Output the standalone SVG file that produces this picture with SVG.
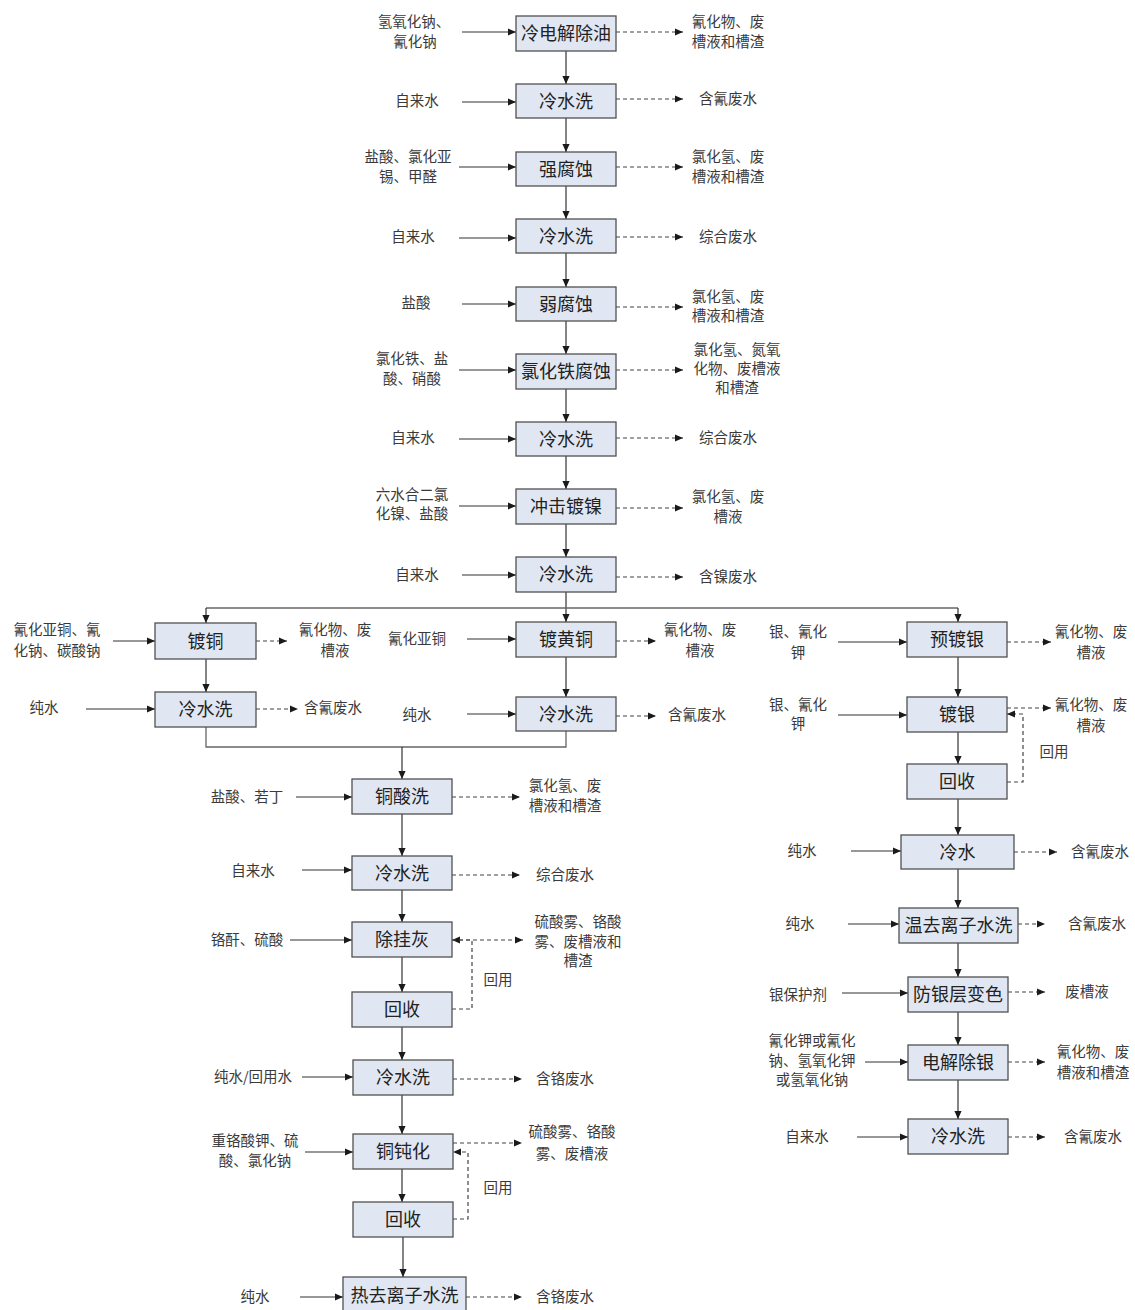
<svg xmlns="http://www.w3.org/2000/svg" width="1135" height="1310" viewBox="0 0 1135 1310">
<style>
.bx rect{fill:#e1e7f2;stroke:#505050;stroke-width:1.3}
.bx text{font-family:"Noto Sans CJK SC","Noto Sans",sans-serif;font-size:18px;fill:#222;text-anchor:middle;dominant-baseline:central;transform:translateY(-1.5px)}
.lb text{font-family:"Noto Sans CJK SC","Noto Sans",sans-serif;font-size:14.5px;fill:#3a3a3a;text-anchor:middle;dominant-baseline:central;transform:translateY(-1.5px)}
.s{fill:none;stroke:#333;stroke-width:1.2}
.g{fill:none;stroke:#666;stroke-width:1.3}
.d{fill:none;stroke:#444;stroke-width:1.2;stroke-dasharray:4 3}
.a{marker-end:url(#ah)}
</style>
<defs>
<marker id="ah" viewBox="0 0 10 10" refX="10" refY="5" markerWidth="9" markerHeight="8" markerUnits="userSpaceOnUse" orient="auto"><path d="M0,0.5 L10,5 L0,9.5 z" fill="#1a1a1a"/></marker>
</defs>
<rect width="1135" height="1310" fill="#fff"/>

<g id="connectors">
<path class="s a" d="M566,51 V84"/>
<path class="s a" d="M566,118 V152"/>
<path class="s a" d="M566,186 V219"/>
<path class="s a" d="M566,253 V287"/>
<path class="s a" d="M566,321 V354"/>
<path class="s a" d="M566,389 V422"/>
<path class="s a" d="M566,456 V489"/>
<path class="s a" d="M566,524 V557"/>
<path class="s a" d="M566,592 V622"/>
<path class="g" d="M206,608 H958"/>
<path class="s a" d="M206,608 V623"/>
<path class="s a" d="M958,608 V622"/>
<path class="s a" d="M206,659 V692"/>
<path class="s a" d="M566,657 V697"/>
<path class="g" d="M206,727 V747 H566 V731"/>
<path class="s a" d="M402,747 V779"/>
<path class="s a" d="M402,814 V856"/>
<path class="s a" d="M402,890 V922"/>
<path class="s a" d="M402,957 V992"/>
<path class="s a" d="M402,1027 V1060"/>
<path class="s a" d="M402,1095 V1134"/>
<path class="s a" d="M402,1169 V1202"/>
<path class="s a" d="M403,1237 V1277"/>
<path class="s a" d="M958,657 V697"/>
<path class="s a" d="M958,732 V764"/>
<path class="s a" d="M958,799 V835"/>
<path class="s a" d="M958,869 V908"/>
<path class="s a" d="M958,943 V977"/>
<path class="s a" d="M958,1012 V1045"/>
<path class="s a" d="M958,1080 V1119"/>
<path class="d a" d="M1007,782 H1023 V714 H1007"/>
<path class="d a" d="M452,1009 H472 V940 H452"/>
<path class="d a" d="M453,1219 H468 V1152 H453"/>
<path class="s a" d="M462,32 H516"/>
<path class="s a" d="M462,102 H516"/>
<path class="s a" d="M459,167 H516"/>
<path class="s a" d="M459,238 H516"/>
<path class="s a" d="M462,304 H516"/>
<path class="s a" d="M459,370 H516"/>
<path class="s a" d="M459,439 H516"/>
<path class="s a" d="M459,506 H516"/>
<path class="s a" d="M462,575 H516"/>
<path class="d a" d="M616,32 H683"/>
<path class="d a" d="M616,99 H683"/>
<path class="d a" d="M616,167 H683"/>
<path class="d a" d="M616,237 H683"/>
<path class="d a" d="M616,307 H683"/>
<path class="d a" d="M616,370 H683"/>
<path class="d a" d="M616,438 H683"/>
<path class="d a" d="M616,508 H683"/>
<path class="d a" d="M616,577 H683"/>
<path class="s a" d="M113,641 H155"/>
<path class="d a" d="M256,641 H287"/>
<path class="s a" d="M86,709 H155"/>
<path class="d a" d="M256,709 H298"/>
<path class="s a" d="M467,639 H516"/>
<path class="d a" d="M616,641 H656"/>
<path class="s a" d="M467,714 H516"/>
<path class="d a" d="M616,716 H656"/>
<path class="s a" d="M296,797 H352"/>
<path class="d a" d="M452,797 H520"/>
<path class="s a" d="M302,870 H352"/>
<path class="d a" d="M452,875 H520"/>
<path class="s a" d="M290,940 H352"/>
<path class="d a" d="M452,940 H523"/>
<path class="s a" d="M302,1077 H353"/>
<path class="d a" d="M453,1079 H522"/>
<path class="s a" d="M305,1152 H353"/>
<path class="d a" d="M453,1143 H522"/>
<path class="s a" d="M300,1297 H343"/>
<path class="d a" d="M466,1297 H522"/>
<path class="s a" d="M838,642 H907"/>
<path class="d a" d="M1007,642 H1051"/>
<path class="s a" d="M838,715 H907"/>
<path class="d a" d="M1007,708 H1051"/>
<path class="s a" d="M851,851 H901"/>
<path class="d a" d="M1014,852 H1057"/>
<path class="s a" d="M848,924 H899"/>
<path class="d a" d="M1018,924 H1045"/>
<path class="s a" d="M842,993 H908"/>
<path class="d a" d="M1008,992 H1045"/>
<path class="s a" d="M865,1062 H908"/>
<path class="d a" d="M1008,1062 H1045"/>
<path class="s a" d="M857,1137 H908"/>
<path class="d a" d="M1008,1137 H1045"/>
</g>

<g id="n1" class="bx"><rect x="516" y="16" width="100" height="35"/><text x="566" y="33.5">冷电解除油</text></g>
<g id="n2" class="bx"><rect x="516" y="84" width="100" height="34"/><text x="566" y="101">冷水洗</text></g>
<g id="n3" class="bx"><rect x="516" y="152" width="100" height="34"/><text x="566" y="169">强腐蚀</text></g>
<g id="n4" class="bx"><rect x="516" y="219" width="100" height="34"/><text x="566" y="236">冷水洗</text></g>
<g id="n5" class="bx"><rect x="516" y="287" width="100" height="34"/><text x="566" y="304">弱腐蚀</text></g>
<g id="n6" class="bx"><rect x="516" y="354" width="100" height="35"/><text x="566" y="371.5">氯化铁腐蚀</text></g>
<g id="n7" class="bx"><rect x="516" y="422" width="100" height="34"/><text x="566" y="439">冷水洗</text></g>
<g id="n8" class="bx"><rect x="516" y="489" width="100" height="35"/><text x="566" y="506.5">冲击镀镍</text></g>
<g id="n9" class="bx"><rect x="516" y="557" width="100" height="35"/><text x="566" y="574.5">冷水洗</text></g>

<g id="cu1" class="bx"><rect x="155" y="623" width="101" height="36"/><text x="205.5" y="641">镀铜</text></g>
<g id="cu2" class="bx"><rect x="155" y="692" width="101" height="35"/><text x="205.5" y="709.5">冷水洗</text></g>
<g id="br1" class="bx"><rect x="516" y="622" width="100" height="35"/><text x="566" y="639.5">镀黄铜</text></g>
<g id="br2" class="bx"><rect x="516" y="697" width="100" height="34"/><text x="566" y="714">冷水洗</text></g>

<g id="l1" class="bx"><rect x="352" y="779" width="100" height="35"/><text x="402" y="796.5">铜酸洗</text></g>
<g id="l2" class="bx"><rect x="352" y="856" width="100" height="34"/><text x="402" y="873">冷水洗</text></g>
<g id="l3" class="bx"><rect x="352" y="922" width="100" height="35"/><text x="402" y="939.5">除挂灰</text></g>
<g id="l4" class="bx"><rect x="352" y="992" width="100" height="35"/><text x="402" y="1009.5">回收</text></g>
<g id="l5" class="bx"><rect x="353" y="1060" width="100" height="35"/><text x="403" y="1077.5">冷水洗</text></g>
<g id="l6" class="bx"><rect x="353" y="1134" width="100" height="35"/><text x="403" y="1151.5">铜钝化</text></g>
<g id="l7" class="bx"><rect x="353" y="1202" width="100" height="35"/><text x="403" y="1219.5">回收</text></g>
<g id="l8" class="bx"><rect x="343" y="1277" width="123" height="36"/><text x="404.5" y="1295">热去离子水洗</text></g>

<g id="r1" class="bx"><rect x="907" y="622" width="100" height="35"/><text x="957" y="639.5">预镀银</text></g>
<g id="r2" class="bx"><rect x="907" y="697" width="100" height="35"/><text x="957" y="714.5">镀银</text></g>
<g id="r3" class="bx"><rect x="907" y="764" width="100" height="35"/><text x="957" y="781.5">回收</text></g>
<g id="r4" class="bx"><rect x="901" y="835" width="113" height="34"/><text x="957.5" y="852">冷水</text></g>
<g id="r5" class="bx"><rect x="899" y="908" width="119" height="35"/><text x="958.5" y="925.5">温去离子水洗</text></g>
<g id="r6" class="bx"><rect x="908" y="977" width="100" height="35"/><text x="958" y="994.5">防银层变色</text></g>
<g id="r7" class="bx"><rect x="908" y="1045" width="100" height="35"/><text x="958" y="1062.5">电解除银</text></g>
<g id="r8" class="bx"><rect x="908" y="1119" width="100" height="35"/><text x="958" y="1136.5">冷水洗</text></g>

<g id="labels-main" class="lb">
<text x="414" y="22">氢氧化钠、<tspan x="415" dy="19">氰化钠</tspan></text>
<text x="728" y="22">氰化物、废<tspan x="728" dy="19">槽液和槽渣</tspan></text>
<text x="417" y="101">自来水</text>
<text x="728" y="99">含氰废水</text>
<text x="408" y="157">盐酸、氯化亚<tspan x="408" dy="19">锡、甲醛</tspan></text>
<text x="728" y="157">氯化氢、废<tspan x="728" dy="19">槽液和槽渣</tspan></text>
<text x="413" y="237">自来水</text>
<text x="728" y="237">综合废水</text>
<text x="416" y="303">盐酸</text>
<text x="728" y="296.5">氯化氢、废<tspan x="728" dy="19">槽液和槽渣</tspan></text>
<text x="412" y="359">氯化铁、盐<tspan x="412" dy="19">酸、硝酸</tspan></text>
<text x="737" y="349.5">氯化氢、氮氧<tspan x="737" dy="19">化物、废槽液</tspan><tspan x="737" dy="19">和槽渣</tspan></text>
<text x="413" y="438">自来水</text>
<text x="728" y="438">综合废水</text>
<text x="412" y="494.5">六水合二氯<tspan x="412" dy="19">化镍、盐酸</tspan></text>
<text x="728" y="497">氯化氢、废<tspan x="728" dy="19">槽液</tspan></text>
<text x="417" y="575">自来水</text>
<text x="728" y="577">含镍废水</text>
</g>
<g id="labels-left" class="lb">
<text x="57" y="630">氰化亚铜、氰<tspan x="57" dy="20">化钠、碳酸钠</tspan></text>
<text x="335" y="630">氰化物、废<tspan x="335" dy="20">槽液</tspan></text>
<text x="44" y="708">纯水</text>
<text x="333" y="708">含氰废水</text>
<text x="417" y="639">氰化亚铜</text>
<text x="417" y="715">纯水</text>
<text x="700" y="630">氰化物、废<tspan x="700" dy="20">槽液</tspan></text>
<text x="697" y="715">含氰废水</text>
<text x="247" y="797">盐酸、若丁</text>
<text x="565" y="786">氯化氢、废<tspan x="565" dy="19">槽液和槽渣</tspan></text>
<text x="253" y="871">自来水</text>
<text x="565" y="875">综合废水</text>
<text x="247" y="940">铬酐、硫酸</text>
<text x="578" y="922">硫酸雾、铬酸<tspan x="578" dy="19">雾、废槽液和</tspan><tspan x="578" dy="19">槽渣</tspan></text>
<text x="498" y="980">回用</text>
<text x="253" y="1077">纯水/回用水</text>
<text x="565" y="1079">含铬废水</text>
<text x="255" y="1141">重铬酸钾、硫<tspan x="255" dy="19">酸、氯化钠</tspan></text>
<text x="572" y="1132">硫酸雾、铬酸<tspan x="572" dy="21">雾、废槽液</tspan></text>
<text x="498" y="1188">回用</text>
<text x="255" y="1297">纯水</text>
<text x="565" y="1297">含铬废水</text>
</g>
<g id="labels-right" class="lb">
<text x="798" y="632">银、氰化<tspan x="798" dy="20">钾</tspan></text>
<text x="1091" y="632">氰化物、废<tspan x="1091" dy="20">槽液</tspan></text>
<text x="798" y="704.5">银、氰化<tspan x="798" dy="19">钾</tspan></text>
<text x="1091" y="705">氰化物、废<tspan x="1091" dy="20">槽液</tspan></text>
<text x="1054" y="752">回用</text>
<text x="802" y="851">纯水</text>
<text x="1100" y="852">含氰废水</text>
<text x="800" y="924">纯水</text>
<text x="1097" y="924">含氰废水</text>
<text x="798" y="995">银保护剂</text>
<text x="1087" y="992">废槽液</text>
<text x="812" y="1041">氰化钾或氰化<tspan x="812" dy="19">钠、氢氧化钾</tspan><tspan x="812" dy="19">或氢氧化钠</tspan></text>
<text x="1093" y="1052">氰化物、废<tspan x="1093" dy="20">槽液和槽渣</tspan></text>
<text x="807" y="1137">自来水</text>
<text x="1093" y="1137">含氰废水</text>
</g>
</svg>
